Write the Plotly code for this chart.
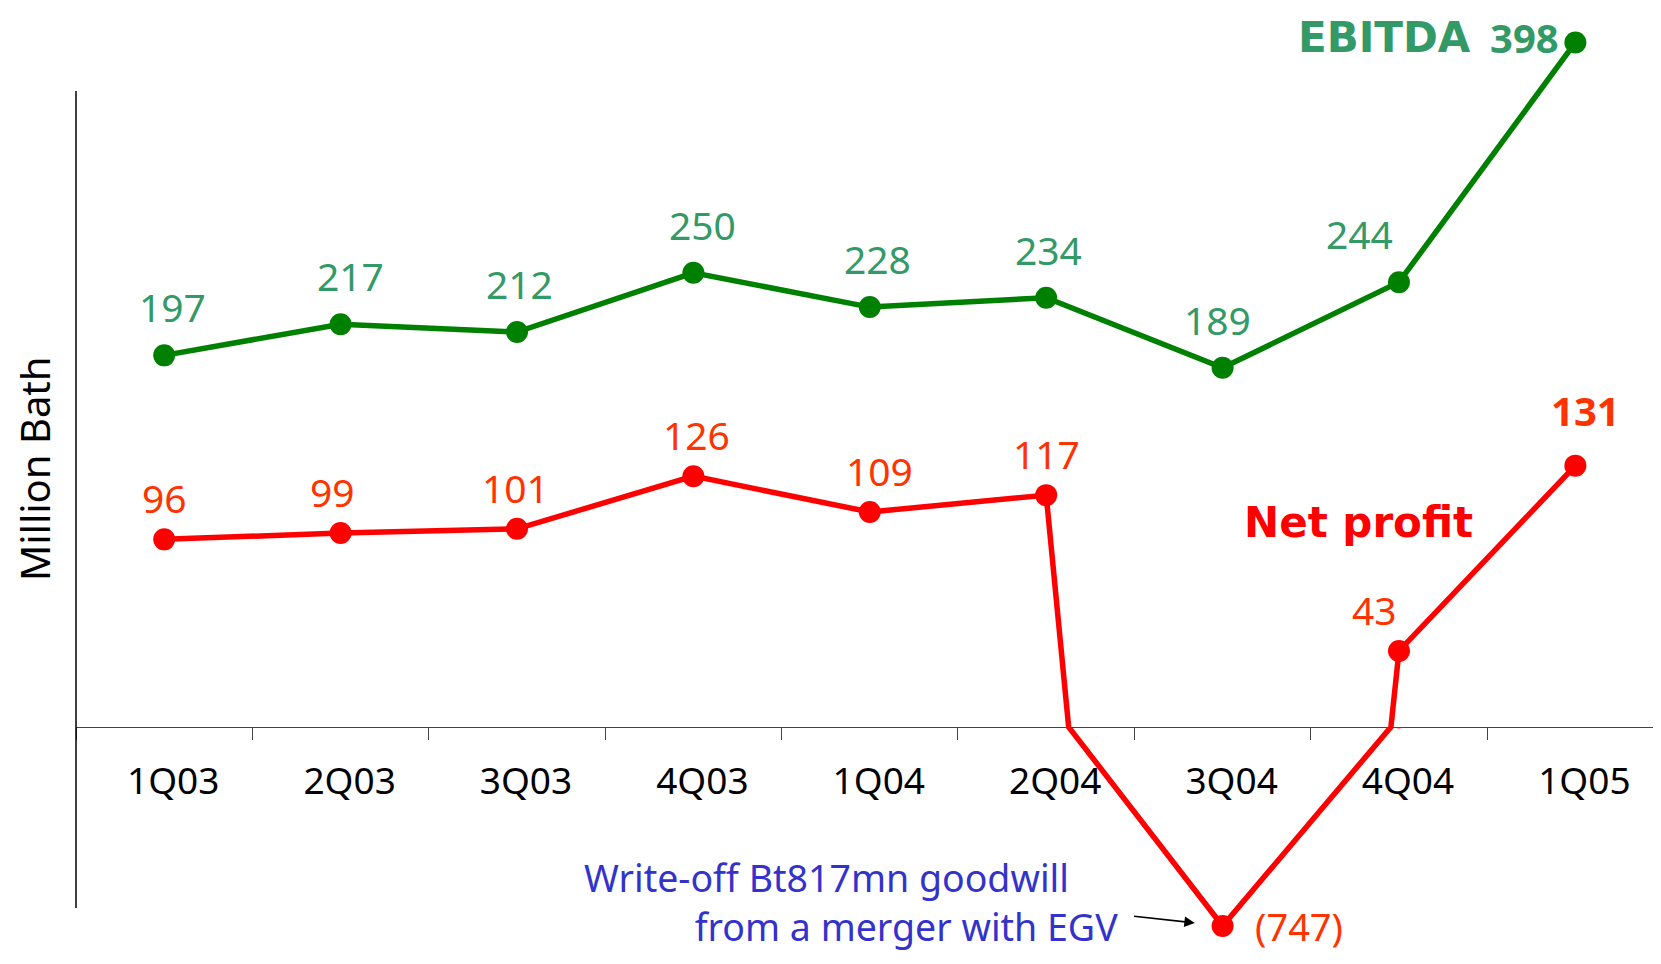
import plotly.graph_objects as go

quarters = ["1Q03", "2Q03", "3Q03", "4Q03", "1Q04", "2Q04", "3Q04", "4Q04", "1Q05"]
ebitda = [197, 217, 212, 250, 228, 234, 189, 244, 398]
net_profit = [96, 99, 101, 126, 109, 117, -747, 43, 131]

# page is 1661x964, the browser body adds an 8px margin round the figure
OFF = 8
W, H = 1661 - 2 * OFF, 964 - 2 * OFF
GREEN = "#008000"
GREEN_TXT = "#339966"
RED = "#ff0000"
RED_TXT = "#ff3300"
BLUE = "#3333cc"
FONT = "Noto Sans"


def px(p):
    # page column -> paper x
    return (p - OFF) / W


def py(p):
    # page row -> paper y
    return 1 - (p - OFF) / H


x0 = px(76)      # left edge of plot area / y axis line
brk = py(727)    # x axis line, also where the net profit scale is broken

fig = go.Figure()

# EBITDA on its own scale
fig.add_trace(go.Scatter(x=quarters, y=ebitda, yaxis="y2", mode="lines+markers",
                         line=dict(color=GREEN, width=5.5), marker=dict(color=GREEN, size=22),
                         showlegend=False, hoverinfo="skip"))
# net profit, broken scale: upper part for profits, lower part for the loss quarter
for ax in ["y", "y3"]:
    fig.add_trace(go.Scatter(x=quarters, y=net_profit, yaxis=ax, mode="lines+markers",
                             line=dict(color=RED, width=5.5), marker=dict(color=RED, size=22),
                             showlegend=False, hoverinfo="skip"))

ann = []

# value labels, EBITDA (last one sits left of the point next to the title)
g_dx = [8, 10, 2, 9, 8, 2, -5, -39, 0]
for i, (q, v) in enumerate(zip(quarters, ebitda)):
    if i == len(quarters) - 1:
        ann.append(dict(x=q, y=v, xref="x", yref="y2", text=str(v), showarrow=False,
                        xanchor="right", yanchor="middle", xshift=-14, yshift=5,
                        font=dict(family=FONT, size=40, color=GREEN_TXT, weight="bold")))
    else:
        ann.append(dict(x=q, y=v, xref="x", yref="y2", text=str(v), showarrow=False,
                        xanchor="center", yanchor="bottom", xshift=g_dx[i], yshift=20,
                        font=dict(family=FONT, size=39, color=GREEN_TXT)))

# value labels, net profit
r_dx = [0, -8, -2, 3, 10, 0, 0, -24, 10]
for i, (q, v) in enumerate(zip(quarters, net_profit)):
    if v < 0:
        ann.append(dict(x=q, y=v, xref="x", yref="y3", text=f"({-v})", showarrow=False,
                        xanchor="left", yanchor="middle", xshift=30, yshift=0,
                        font=dict(family=FONT, size=38, color=RED_TXT)))
    elif i == len(quarters) - 1:
        ann.append(dict(x=q, y=v, xref="x", yref="y", text=str(v), showarrow=False,
                        xanchor="center", yanchor="bottom", xshift=r_dx[i], yshift=26,
                        font=dict(family=FONT, size=40, color=RED_TXT, weight="bold")))
    else:
        ann.append(dict(x=q, y=v, xref="x", yref="y", text=str(v), showarrow=False,
                        xanchor="center", yanchor="bottom", xshift=r_dx[i], yshift=13,
                        font=dict(family=FONT, size=39, color=RED_TXT)))

# series titles
ann.append(dict(x=px(1384), y=py(38), xref="paper", yref="paper", text="EBITDA", showarrow=False,
                xanchor="center", yanchor="middle",
                font=dict(family="DejaVu Sans", size=42, color=GREEN_TXT, weight="bold")))
ann.append(dict(x=px(1358), y=py(522), xref="paper", yref="paper", text="Net profit", showarrow=False,
                xanchor="center", yanchor="middle",
                font=dict(family="DejaVu Sans", size=42, color=RED, weight="bold")))

# y title
ann.append(dict(x=px(34), y=py(469), xref="paper", yref="paper", text="Million Bath", showarrow=False,
                textangle=-90, xanchor="center", yanchor="middle",
                font=dict(family=FONT, size=40, color="black")))

# write-off note
note = "Write-off Bt817mn goodwill" + "&nbsp;" * 5 + "<br>from a merger with EGV"
ann.append(dict(x=px(1120), y=py(902), xref="paper", yref="paper", text=note,
                showarrow=False, xanchor="right", yanchor="middle", align="right",
                font=dict(family=FONT, size=37.5, color=BLUE)))
ann.append(dict(x=quarters[6], y=net_profit[6], xref="x", yref="y3", text="", showarrow=True,
                ax=-90, ay=-10, arrowhead=2, arrowsize=1.3, arrowwidth=1.6, arrowcolor="black",
                standoff=28))

fig.update_layout(
    width=W, height=H,
    margin=dict(l=0, r=0, t=0, b=0),
    paper_bgcolor="white", plot_bgcolor="white",
    xaxis=dict(type="category", domain=[x0, 1], range=[-0.5, 8.44], anchor="free",
               position=brk, showline=True, linecolor="#444", linewidth=1,
               ticks="outside", tickson="boundaries", ticklen=12, tickcolor="#444",
               showgrid=False, zeroline=False, ticklabelstandoff=22, ticklabelshift=9,
               tickfont=dict(family=FONT, size=37, color="black")),
    # profits above the break, loss below it
    yaxis=dict(range=[6.9, 348.3], domain=[brk, 1], visible=False),
    yaxis3=dict(range=[-860.6, 6.9], domain=[0, brk], visible=False, anchor="x"),
    yaxis2=dict(range=[-41.7, 420.1], visible=False, overlaying="y"),
    annotations=ann,
    shapes=[dict(type="line", xref="paper", yref="paper", x0=x0, x1=x0, y0=py(908), y1=py(91),
                 line=dict(color="black", width=1.5))],
)

fig.write_html("out.html")
